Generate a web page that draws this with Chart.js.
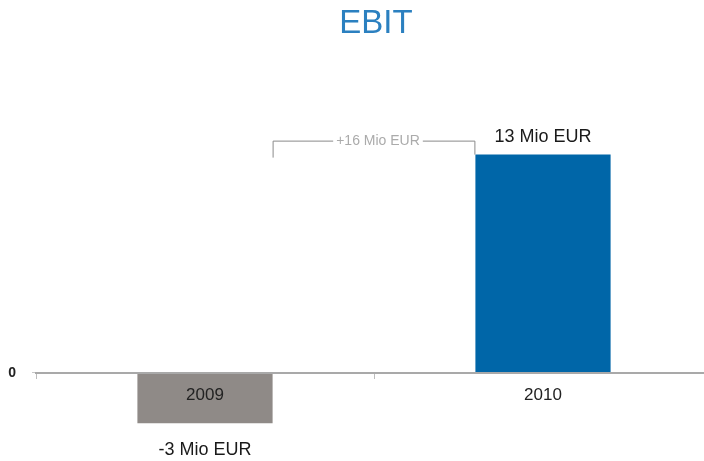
<!DOCTYPE html>
<html>
<head>
<meta charset="utf-8">
<script src="https://cdn.jsdelivr.net/npm/chart.js@4/dist/chart.umd.min.js"></script>
<style>
  html, body { margin: 0; padding: 0; background: #fff; overflow: hidden; }
  #wrap { width: 712px; height: 461px; }
</style>
</head>
<body>
<div id="wrap"><canvas id="ebitChart" width="712" height="461"></canvas></div>
<script>
const years = ['2009', '2010'];
const ebit = [-3, 13];
const barColors = ['#8f8a87', '#0066a8'];
const unit = 'Mio EUR';
const chartTitle = 'EBIT';
const yRange = { min: -3.8, max: 16.85 };

const FONT = "'Liberation Sans', Arial, sans-serif";

// title centred over the plot area rather than the whole canvas
const centredTitle = {
  id: 'centredTitle',
  afterDraw(chart) {
    const { ctx, chartArea } = chart;
    ctx.save();
    ctx.font = `33px ${FONT}`;
    ctx.fillStyle = '#2b80c0';
    ctx.textAlign = 'center';
    ctx.textBaseline = 'middle';
    ctx.fillText(chartTitle, (chartArea.left + chartArea.right) / 2 + 2, 24);
    ctx.restore();
  }
};

// value labels above/below each bar plus the bracket showing the change
const annotations = {
  id: 'annotations',
  afterDatasetsDraw(chart) {
    const { ctx } = chart;
    const bars = chart.getDatasetMeta(0).data;
    ctx.save();
    ctx.font = `18px ${FONT}`;
    ctx.fillStyle = '#1a1a1a';
    ctx.textAlign = 'center';
    ctx.textBaseline = 'middle';
    bars.forEach((bar, i) => {
      const v = ebit[i];
      const y = v >= 0 ? bar.y - 18 : bar.y + 27;
      ctx.fillText(`${v} ${unit}`, bar.x, y);
    });

    // bracket from the right edge of the first bar to the left edge of the second
    const first = bars[0], second = bars[1];
    const x1 = first.x + first.width / 2;
    const x2 = second.x - second.width / 2;
    const yTop = second.y - 14;
    const diff = ebit[1] - ebit[0];
    const text = `+${diff} ${unit}`;
    ctx.font = `14px ${FONT}`;
    const tw = ctx.measureText(text).width;
    const tx = (x1 + x2) / 2 + 4;

    ctx.strokeStyle = '#8a8a8a';
    ctx.lineWidth = 1;
    ctx.beginPath();
    ctx.moveTo(x1 + 0.5, yTop + 17);
    ctx.lineTo(x1 + 0.5, yTop + 0.5);
    ctx.lineTo(tx - tw / 2 - 3, yTop + 0.5);
    ctx.moveTo(tx + tw / 2 + 3, yTop + 0.5);
    ctx.lineTo(x2 - 0.5, yTop + 0.5);
    ctx.lineTo(x2 - 0.5, second.y);
    ctx.stroke();

    ctx.fillStyle = '#ababab';
    ctx.fillText(text, tx, yTop + 1);
    ctx.restore();
  }
};

new Chart(document.getElementById('ebitChart'), {
  type: 'bar',
  data: {
    labels: years,
    datasets: [{
      data: ebit,
      backgroundColor: barColors,
      borderWidth: 0,
      barPercentage: 0.4,
      categoryPercentage: 1,
    }],
  },
  options: {
    responsive: false,
    animation: false,
    layout: { padding: { left: 0, right: 0, top: 90, bottom: 0 } },
    plugins: {
      legend: { display: false },
      tooltip: { enabled: false },
      title: { display: false },
    },
    scales: {
      x: {
        position: { y: 0 },
        grid: { drawOnChartArea: false, offset: true, tickLength: 5, color: '#bdbdbd' },
        // axis line and year labels sit on top of the bars
        border: { color: '#a9a9a9', width: 2, z: 1 },
        ticks: { z: 1, color: '#222', padding: 7, autoSkip: false, maxRotation: 0, font: { family: FONT, size: 17 } },
      },
      y: {
        min: yRange.min,
        max: yRange.max,
        afterBuildTicks(scale) { scale.ticks = [{ value: 0 }]; },
        afterFit(scale) { scale.width = 36; },
        grid: { display: true, drawOnChartArea: false, tickLength: 4, color: '#c8c8c8' },
        border: { display: false },
        ticks: { color: '#222', padding: 16, font: { family: FONT, size: 14, weight: 'bold' } },
      },
    },
  },
  plugins: [annotations, centredTitle],
});
</script>
</body>
</html>
